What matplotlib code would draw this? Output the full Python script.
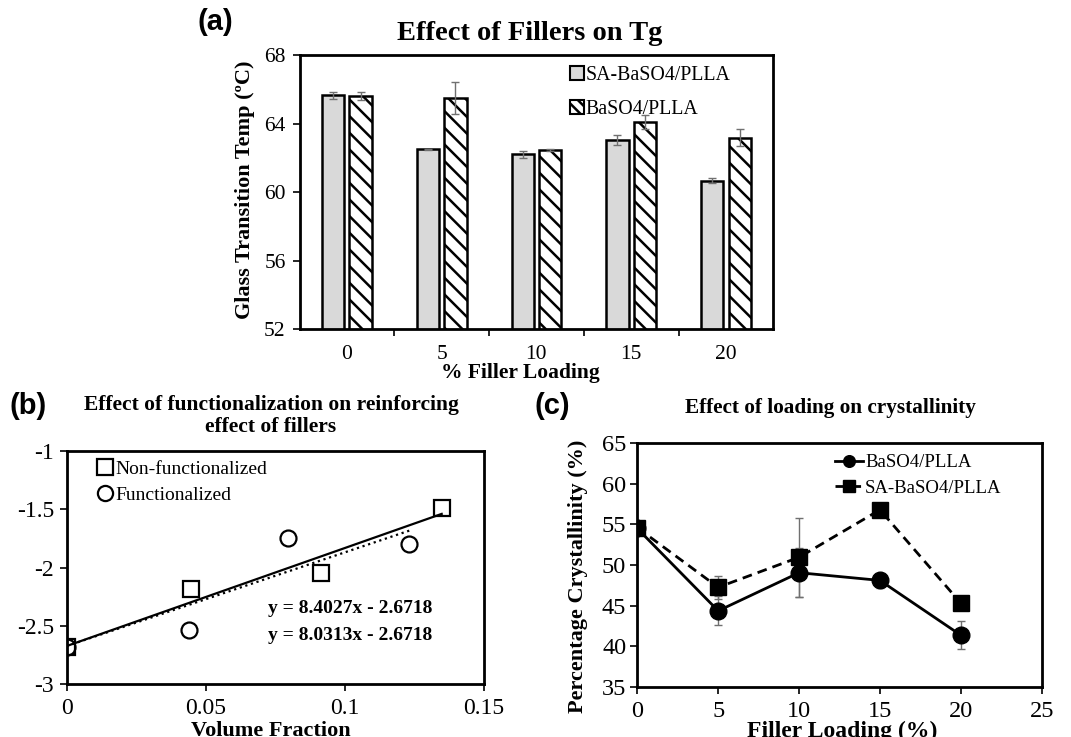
import numpy as np
import matplotlib
matplotlib.use("Agg")
import matplotlib.pyplot as plt
from matplotlib.patches import Patch

plt.rcParams['font.family'] = ['Liberation Serif', 'DejaVu Serif']
plt.rcParams['hatch.linewidth'] = 1.8

# (a) glass transition temperature
loading_a = ['0', '5', '10', '15', '20']
tg_sa = [65.65, 62.5, 62.2, 63.05, 60.67]
tg_sa_err = [0.22, 0.03, 0.18, 0.28, 0.13]
tg_ba = [65.62, 65.5, 62.45, 64.1, 63.18]
tg_ba_err = [0.22, 0.92, 0.06, 0.42, 0.48]

# (b) reinforcing effect vs volume fraction
vf_non = [0.0, 0.0447, 0.0915, 0.1348]
y_non = [-2.68, -2.185, -2.045, -1.485]
vf_fun = [0.0, 0.0438, 0.0797, 0.1232]
y_fun = [-2.68, -2.535, -1.75, -1.80]
slope_non, slope_fun, intercept = 8.4027, 8.0313, -2.6718

# (c) crystallinity vs loading
loading_c = [0, 5, 10, 15, 20]
xc_ba = [54.5, 44.35, 49.05, 48.1, 41.35]
xc_ba_err = [0.3, 1.8, 3.0, 0.9, 1.7]
xc_sa = [54.6, 47.25, 50.95, 56.8, 45.3]
xc_sa_err = [0.3, 1.4, 4.9, 0.3, 0.3]

W, H = 1071, 737
fig = plt.figure(figsize=(W / 100, H / 100), dpi=100)


def box(l, t, r, b):
    return [l / W, 1 - b / H, (r - l) / W, (b - t) / H]


def fx(x, y):
    return x / W, 1 - y / H


def style_axes(ax, size):
    for s in ax.spines.values():
        s.set_linewidth(2)
    ax.tick_params(direction='out', length=5, width=1.2, labelsize=size)


# ---------------- (a)
ax1 = fig.add_axes(box(299.5, 55, 773.3, 329.3))
pos = np.arange(len(loading_a))
w = 0.235
ax1.bar(pos - 0.145, tg_sa, w, color='#d9d9d9', edgecolor='black', linewidth=1.8, zorder=2)
ax1.bar(pos + 0.145, tg_ba, w, color='white', edgecolor='black', linewidth=1.8,
        hatch='\\\\', zorder=2)
ax1.errorbar(pos - 0.145, tg_sa, yerr=tg_sa_err, fmt='none', ecolor='#707070',
             elinewidth=1, capsize=3, zorder=3)
ax1.errorbar(pos + 0.145, tg_ba, yerr=tg_ba_err, fmt='none', ecolor='#707070',
             elinewidth=1, capsize=3, zorder=3)
ax1.set_xlim(-0.5, 4.5)
ax1.set_ylim(52, 68)
ax1.set_yticks([52, 56, 60, 64, 68])
ax1.set_xticks(pos)
ax1.set_xticklabels(loading_a)
ax1.set_xticks(np.arange(0.5, 4.5, 1), minor=True)
style_axes(ax1, 15.5)
ax1.tick_params(axis='y', pad=5)
ax1.tick_params(axis='x', which='major', length=0, pad=11)
ax1.tick_params(axis='x', which='minor', length=5, width=1.2, direction='out')
handles_a = [Patch(facecolor='#d9d9d9', edgecolor='black', linewidth=1.5, label='SA-BaSO4/PLLA'),
             Patch(facecolor='white', edgecolor='black', linewidth=1.5, hatch='\\\\\\',
                   label='BaSO4/PLLA')]
ax1.legend(handles=handles_a, loc='upper left', bbox_to_anchor=fx(570, 66),
           bbox_transform=fig.transFigure, frameon=False, borderpad=0, borderaxespad=0,
           fontsize=14.3, handlelength=0.7, handleheight=0.7, handletextpad=0.1,
           labelspacing=0.75)
fig.text(*fx(530, 33), 'Effect of Fillers on Tg', fontsize=20.5, fontweight='bold',
         ha='center', va='center')
fig.text(*fx(245, 190), 'Glass Transition Temp (ºC)', fontsize=16, fontweight='bold',
         rotation=90, ha='center', va='center')
fig.text(*fx(520, 373), '% Filler Loading', fontsize=15.5, fontweight='bold',
         ha='center', va='center')

# ---------------- (b)
ax2 = fig.add_axes(box(66.7, 451, 484, 684.3))
ax2.plot(vf_non, y_non, linestyle='none', marker='s', ms=11.5, mfc='none', mec='black',
         mew=1.6, label='Non-functionalized', zorder=3)
ax2.plot(vf_fun, y_fun, linestyle='none', marker='o', ms=11.5, mfc='none', mec='black',
         mew=1.6, label='Functionalized', zorder=3)
xl = np.array([0, max(vf_non)])
ax2.plot(xl, slope_non * xl + intercept, color='black', lw=1.6)
xl2 = np.array([0, max(vf_fun)])
ax2.plot(xl2, slope_fun * xl2 + intercept, color='black', lw=1.6, linestyle=':')
ax2.set_xlim(0, 0.15)
ax2.set_ylim(-3, -1)
ax2.set_xticks([0, 0.05, 0.1, 0.15])
ax2.set_xticklabels(['0', '0.05', '0.1', '0.15'])
ax2.set_yticks([-3, -2.5, -2, -1.5, -1])
ax2.set_yticklabels(['-3', '-2.5', '-2', '-1.5', '-1'])
style_axes(ax2, 17)
ax2.tick_params(axis='x', pad=5)
ax2.tick_params(axis='y', pad=4)
ax2.legend(loc='upper left', bbox_to_anchor=fx(99, 460), bbox_transform=fig.transFigure,
           frameon=False, borderpad=0, borderaxespad=0, fontsize=14,
           handlelength=0.6, handletextpad=0.25, labelspacing=0.45, markerscale=0.95)
ax2.text(0.0725, -2.35, 'y = %.4fx - %.4f' % (slope_non, -intercept), fontsize=14,
         fontweight='bold', va='center')
ax2.text(0.0725, -2.585, 'y = %.4fx - %.4f' % (slope_fun, -intercept), fontsize=14,
         fontweight='bold', va='center')
fig.text(*fx(271, 416), 'Effect of functionalization on reinforcing\neffect of fillers',
         fontsize=15.5, fontweight='bold', ha='center', va='center', linespacing=1.1)
fig.text(*fx(271, 736), 'Volume Fraction', fontsize=16, fontweight='bold',
         ha='center', va='baseline')

# ---------------- (c)
ax3 = fig.add_axes(box(637.3, 443.3, 1041.7, 686.7))
ax3.errorbar(loading_c, xc_ba, yerr=xc_ba_err, fmt='none', ecolor='#707070',
             elinewidth=1, capsize=3, zorder=2)
ax3.errorbar(loading_c, xc_sa, yerr=xc_sa_err, fmt='none', ecolor='#707070',
             elinewidth=1, capsize=3, zorder=2)
ax3.plot(loading_c, xc_ba, color='black', lw=2, marker='o', ms=12,
         label='BaSO4/PLLA', zorder=3)
ax3.plot(loading_c, xc_sa, color='black', lw=2, marker='s', ms=11.5,
         linestyle=(0, (3.5, 2.2)), label='SA-BaSO4/PLLA', zorder=3)
ax3.set_xlim(0, 25)
ax3.set_ylim(35, 65)
ax3.set_xticks([0, 5, 10, 15, 20, 25])
ax3.set_yticks([35, 40, 45, 50, 55, 60, 65])
style_axes(ax3, 17.5)
ax3.tick_params(axis='x', pad=5)
ax3.tick_params(axis='y', pad=3)
ax3.legend(loc='upper left', bbox_to_anchor=fx(835, 454), bbox_transform=fig.transFigure,
           frameon=False, borderpad=0, borderaxespad=0, fontsize=13.5,
           handlelength=1.5, handletextpad=0.1, labelspacing=0.45, markerscale=0.7)
fig.text(*fx(830, 408), 'Effect of loading on crystallinity', fontsize=15.3,
         fontweight='bold', ha='center', va='center')
fig.text(*fx(578, 576), 'Percentage Crystallinity (%)', fontsize=16, fontweight='bold',
         rotation=90, ha='center', va='center')
fig.text(*fx(842, 737), 'Filler Loading (%)', fontsize=17, fontweight='bold',
         ha='center', va='baseline')

# panel letters
for lab, (px, py) in zip(['(a)', '(b)', '(c)'], [(215, 22), (28, 406), (552, 406)]):
    fig.text(*fx(px, py), lab, fontsize=21, fontweight='bold', family='Liberation Sans',
             ha='center', va='center')

fig.savefig('out.png', dpi=100)
